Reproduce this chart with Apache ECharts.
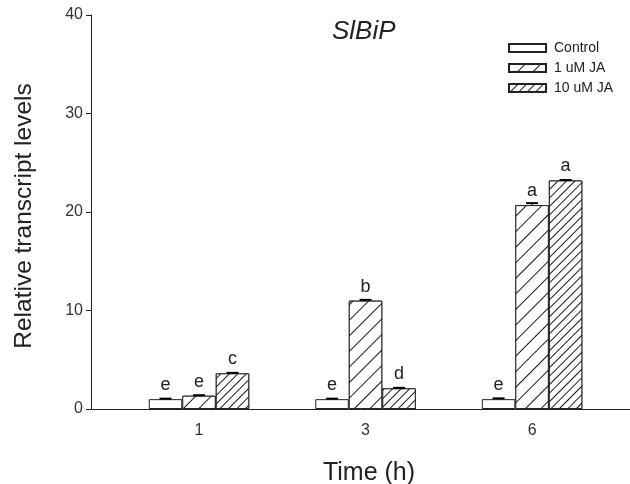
<!DOCTYPE html>
<html>
<head>
<meta charset="utf-8">
<script src="https://cdn.jsdelivr.net/npm/echarts@6/dist/echarts.min.js"></script>
<style>
  html, body { margin: 0; padding: 0; background: #fff; }
  #chart { width: 630px; height: 484px; }
</style>
</head>
<body>
<div id="chart"></div>
<script>
// time points (h), placed at 1,2,3 on the x axis
const times = ['1', '3', '6']
const seriesNames = ['Control', '1 uM JA', '10 uM JA']
const control = [1.0, 1.0, 1.0]
const ja1 = [1.35, 11.0, 20.7]
const ja10 = [3.62, 2.1, 23.2]
const errControl = [0.05, 0.05, 0.08]
const errJa1 = [0.05, 0.08, 0.2]
const errJa10 = [0.05, 0.05, 0.05]
const lettersControl = ['e', 'e', 'e']
const lettersJa1 = ['e', 'b', 'a']
const lettersJa10 = ['c', 'd', 'a']
const yTicks = [0, 10, 20, 30, 40]

const font = 'Arial, "Liberation Sans", sans-serif'
const barW = 33.5

let myChart = echarts.init(document.getElementById('chart'))

function hatch(gap) {
  return {
    symbol: 'rect',
    symbolSize: 1,
    color: '#1a1a1a',
    backgroundColor: '#fff',
    dashArrayX: [1, 0],
    dashArrayY: [1, gap],
    rotation: -Math.PI / 4
  }
}

const values = [control, ja1, ja10]
const errs = [errControl, errJa1, errJa10]
const letters = [lettersControl, lettersJa1, lettersJa10]
const decals = [null, hatch(10), hatch(4.5)]

const series = []
values.forEach((vals, i) => {
  const item = { color: '#fff', borderColor: '#222', borderWidth: 1 }
  if (decals[i]) item.decal = decals[i]
  series.push({
    name: seriesNames[i],
    type: 'bar',
    barWidth: barW,
    barGap: '0%',
    data: vals.map((v, k) => [k + 1, v]),
    itemStyle: item,
    label: {
      show: true,
      position: 'top',
      distance: 5,
      fontFamily: font,
      fontSize: 18,
      color: '#222',
      formatter: p => letters[i][p.dataIndex]
    },
    emphasis: { disabled: true }
  })
  // error bar caps
  series.push({
    type: 'custom',
    silent: true,
    z: 5,
    data: vals.map((v, k) => [k + 1, v, errs[i][k]]),
    renderItem: (params, api) => {
      const off = (i - 1) * barW
      const top = api.coord([api.value(0), api.value(1) + api.value(2)])
      const base = api.coord([api.value(0), api.value(1)])
      const cx = top[0] + off
      return {
        type: 'group',
        children: [
          { type: 'line', shape: { x1: cx, y1: base[1], x2: cx, y2: top[1] }, style: { stroke: '#000', lineWidth: 1 } },
          { type: 'line', shape: { x1: cx - 6, y1: top[1], x2: cx + 6, y2: top[1] }, style: { stroke: '#000', lineWidth: 2 } }
        ]
      }
    }
  })
})

const option = {
  animation: false,
  backgroundColor: '#fff',
  title: {
    text: 'SlBiP',
    left: 332,
    top: 19,
    padding: 0,
    textStyle: { fontFamily: font, fontSize: 26, fontStyle: 'italic', fontWeight: 'normal', color: '#222' }
  },
  legend: {
    data: seriesNames,
    orient: 'vertical',
    left: 508,
    top: 41,
    padding: 0,
    icon: 'rect',
    itemWidth: 37,
    itemHeight: 8,
    itemGap: 6,
    textStyle: { fontFamily: font, fontSize: 14, color: '#222', padding: [0, 0, 0, 3] }
  },
  grid: { left: 91, right: 0, top: 15, bottom: 75, outerBoundsMode: 'none', containLabel: false },
  xAxis: {
    type: 'value',
    min: 0.3514,
    max: 3.588,
    name: 'Time (h)',
    nameLocation: 'middle',
    nameGap: 52,
    nameTextStyle: { fontFamily: font, fontSize: 25, color: '#222', padding: [0, 0, 0, 17] },
    axisLine: { show: true, lineStyle: { color: '#222', width: 1 } },
    axisTick: { show: false },
    splitLine: { show: false },
    axisLabel: {
      customValues: [1, 2, 3],
      fontFamily: font,
      fontSize: 16,
      color: '#333',
      margin: 14,
      formatter: v => times[Math.round(v) - 1]
    }
  },
  yAxis: {
    type: 'value',
    min: 0,
    max: 40,
    interval: 10,
    name: 'Relative transcript levels',
    nameLocation: 'middle',
    nameGap: 54,
    nameTextStyle: { fontFamily: font, fontSize: 24.5, color: '#222', padding: [0, 8, 0, 0] },
    axisLine: { show: true, lineStyle: { color: '#222', width: 1 } },
    axisTick: { show: true, inside: false, length: 5, lineStyle: { color: '#222' } },
    splitLine: { show: false },
    axisLabel: {
      fontFamily: font,
      fontSize: 16,
      color: '#333',
      margin: 8,
      formatter: v => (yTicks.indexOf(v) >= 0 ? String(v) : '')
    }
  },
  series: series
}
myChart.setOption(option)
</script>
</body>
</html>
